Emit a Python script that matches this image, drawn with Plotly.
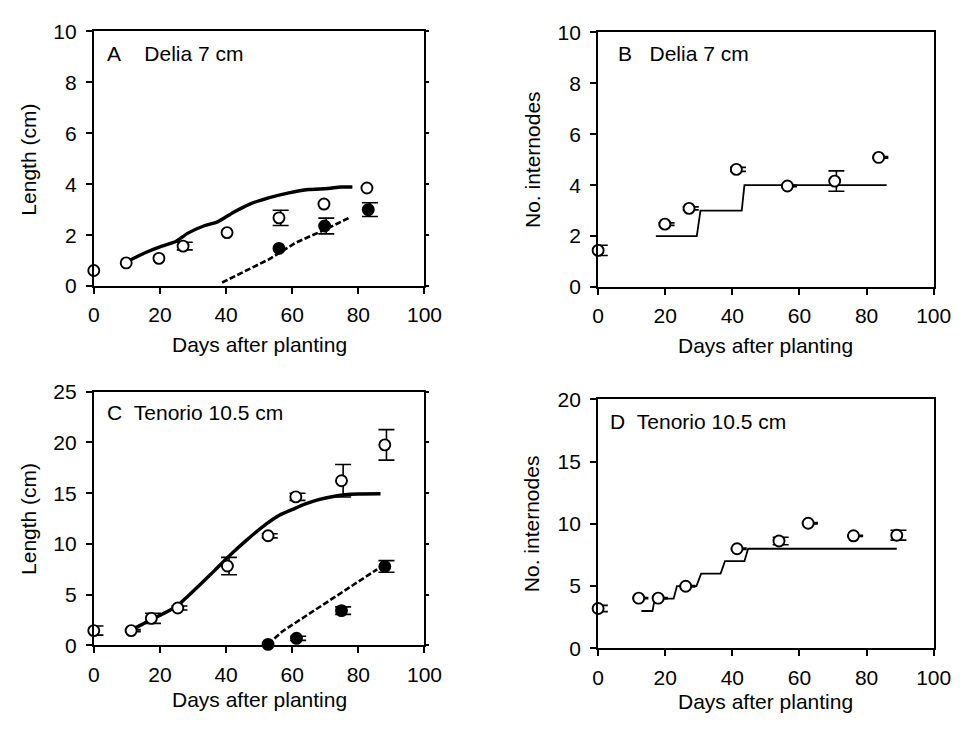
import plotly.graph_objects as go

# ---------------- data ----------------
# Panel A: Delia 7 cm, length (cm)
A_total_day = [0, 9.8, 19.7, 27, 40.3, 56, 69.6, 82.6]
A_total_len = [0.61, 0.91, 1.09, 1.57, 2.10, 2.68, 3.22, 3.85]
A_total_err = [0, 0, 0, 0.15, 0, 0.3, 0, 0]
A_fill_day = [56, 69.8, 83]
A_fill_len = [1.48, 2.36, 3.0]
A_fill_err = [0, 0.31, 0.27]
A_sim_day = [9.8, 12.5, 15.7, 20.6, 24.6, 28.5, 33.4, 37.4, 42.3, 47.2, 53.1, 59,
             64.9, 70.8, 74.7, 78.2]
A_sim_len = [0.94, 1.12, 1.32, 1.57, 1.74, 2.08, 2.37, 2.52, 2.90, 3.22, 3.47, 3.66,
             3.79, 3.83, 3.89, 3.89]
A_sim2_day = [38.8, 45.2, 53.1, 61, 69.8, 77.7]
A_sim2_len = [0.14, 0.56, 1.06, 1.70, 2.21, 2.71]

# Panel B: Delia 7 cm, number of internodes
B_obs_day = [0, 19.9, 27.1, 41.2, 56.4, 70.5, 83.6]
B_obs = [1.44, 2.47, 3.09, 4.62, 3.97, 4.16, 5.09]
B_err = [0.2, 0.05, 0.06, 0.08, 0.03, 0.4, 0.03]
B_sim_day = [17.2, 29.4, 30.5, 42.8, 43.6, 86.0]
B_sim = [2, 2, 3, 3, 4, 4]

# Panel C: Tenorio 10.5 cm, length (cm)
C_total_day = [0, 11.3, 17.4, 25.4, 40.4, 52.7, 61.1, 74.9, 88.0]
C_total_len = [1.46, 1.46, 2.67, 3.69, 7.82, 10.8, 14.64, 16.23, 19.76]
C_total_err = [0.45, 0.1, 0.5, 0.2, 0.85, 0.2, 0.35, 1.6, 1.5]
C_fill_day = [52.7, 61.3, 74.9, 88.0]
C_fill_len = [0.1, 0.70, 3.43, 7.78]
C_fill_err = [0, 0.2, 0.37, 0.57]
C_sim_day = [11.3, 14.5, 17.7, 21.7, 25.6, 28.6, 32.5, 36.5, 40.4, 46.3, 52.2, 56,
             60.1, 64, 68, 72, 75.9, 80, 86.7]
C_sim_len = [1.55, 2.05, 2.6, 3.24, 4.0, 4.9, 6.1, 7.37, 8.65, 10.4, 11.98, 12.8,
             13.4, 13.95, 14.37, 14.65, 14.84, 14.92, 14.94]
C_sim2_day = [52.7, 54.5, 57.1, 60, 65, 70, 75, 80, 85.7]
C_sim2_len = [0.13, 0.65, 1.4, 2.02, 3.08, 4.15, 5.21, 6.28, 7.5]

# Panel D: Tenorio 10.5 cm, number of internodes
D_obs_day = [0, 12.1, 17.9, 26.1, 41.4, 53.9, 62.6, 76.1, 89.0]
D_obs = [3.2, 4.03, 4.03, 4.99, 8.0, 8.62, 10.05, 9.04, 9.09]
D_err = [0.25, 0.05, 0.05, 0.05, 0.05, 0.3, 0.05, 0.05, 0.4]
D_sim_day = [12.9, 16.2, 16.9, 22.5, 23.5, 29.3, 30.7, 36.5, 37.8, 43.6, 44.7, 89.0]
D_sim = [3, 3, 4, 4, 5, 5, 6, 6, 7, 7, 8, 8]

X_TICKS = [0, 20, 40, 60, 80, 100]

# ---------------- styling ----------------
FONT = "Liberation Sans, Arial, sans-serif"
FS = 21
W, H = 979, 731
ERR_SHIFT = 0.5  # error bars sit slightly to the right of the symbols

fig = go.Figure()


def add_errors(days, vals, errs, xa, ya):
    d = [x + ERR_SHIFT for x, e in zip(days, errs) if e > 0]
    v = [y for y, e in zip(vals, errs) if e > 0]
    e2 = [e for e in errs if e > 0]
    fig.add_trace(go.Scatter(
        x=d, y=v, mode="markers", xaxis=xa, yaxis=ya, cliponaxis=False,
        marker=dict(size=1, color="rgba(0,0,0,0)"),
        error_y=dict(type="data", array=e2, color="black", thickness=1.6, width=8),
        hoverinfo="skip"))


def add_points(days, vals, xa, ya, filled):
    fig.add_trace(go.Scatter(
        x=days, y=vals, mode="markers", xaxis=xa, yaxis=ya, cliponaxis=False,
        marker=dict(size=11, color="black" if filled else "white",
                    line=dict(color="black", width=1.9))))


def add_line(days, vals, xa, ya, width, dash="solid", shape="linear"):
    line = dict(color="black", width=width, dash=dash, shape=shape)
    if shape == "spline":
        line["smoothing"] = 0.7
    fig.add_trace(go.Scatter(
        x=days, y=vals, mode="lines", xaxis=xa, yaxis=ya, cliponaxis=False,
        line=line))


SIM_DASH = "6px,2.5px"

# Panel A
add_line(A_sim_day, A_sim_len, "x", "y", 3.4, shape="spline")
add_line(A_sim2_day, A_sim2_len, "x", "y", 2.6, SIM_DASH)
add_errors(A_total_day, A_total_len, A_total_err, "x", "y")
add_errors(A_fill_day, A_fill_len, A_fill_err, "x", "y")
add_points(A_total_day, A_total_len, "x", "y", False)
add_points(A_fill_day, A_fill_len, "x", "y", True)

# Panel B
add_line(B_sim_day, B_sim, "x2", "y2", 1.8)
add_errors(B_obs_day, B_obs, B_err, "x2", "y2")
add_points(B_obs_day, B_obs, "x2", "y2", False)

# Panel C
add_line(C_sim_day, C_sim_len, "x3", "y3", 3.4, shape="spline")
add_line(C_sim2_day, C_sim2_len, "x3", "y3", 2.6, SIM_DASH)
add_errors(C_total_day, C_total_len, C_total_err, "x3", "y3")
add_errors(C_fill_day, C_fill_len, C_fill_err, "x3", "y3")
add_points(C_total_day, C_total_len, "x3", "y3", False)
add_points(C_fill_day, C_fill_len, "x3", "y3", True)

# Panel D
add_line(D_sim_day, D_sim, "x4", "y4", 1.8)
add_errors(D_obs_day, D_obs, D_err, "x4", "y4")
add_points(D_obs_day, D_obs, "x4", "y4", False)

# empty traces carrying the right-hand tick axes of A and C
fig.add_trace(go.Scatter(x=[], y=[], xaxis="x", yaxis="y5"))
fig.add_trace(go.Scatter(x=[], y=[], xaxis="x3", yaxis="y6"))


def px_dom_x(a, b):
    return [a / W, b / W]


def px_dom_y(top, bottom):
    return [1 - bottom / H, 1 - top / H]


def xaxis(dom, anchor):
    return dict(domain=dom, anchor=anchor, range=[0, 100], tickvals=X_TICKS,
                ticks="outside", ticklen=6, tickwidth=1.5, tickcolor="black",
                showline=True, linewidth=2, linecolor="black", mirror=True,
                showgrid=False, zeroline=False, ticklabelstandoff=3,
                tickfont=dict(family=FONT, size=FS, color="black"))


def yaxis(dom, anchor, rng, dtick):
    return dict(domain=dom, anchor=anchor, range=rng, dtick=dtick,
                ticks="outside", ticklen=6, tickwidth=1.5, tickcolor="black",
                showline=True, linewidth=2, linecolor="black", mirror=True,
                showgrid=False, zeroline=False, ticklabelstandoff=5,
                tickfont=dict(family=FONT, size=FS, color="black"))


xa_dom = px_dom_x(90, 429)
xb_dom = px_dom_x(607, 951)
ya_dom = px_dom_y(20, 283)
yb_dom = px_dom_y(21, 284)
yc_dom = px_dom_y(392, 654)
yd_dom = px_dom_y(400, 657)

fig.update_layout(
    width=W, height=H, margin=dict(l=0, r=0, t=0, b=0),
    paper_bgcolor="white", plot_bgcolor="white", showlegend=False,
    font=dict(family=FONT, size=FS, color="black"),
    xaxis=xaxis(xa_dom, "y"),
    yaxis=yaxis(ya_dom, "x", [0, 10], 2),
    xaxis2=xaxis(xb_dom, "y2"),
    yaxis2=yaxis(yb_dom, "x2", [0, 10], 2),
    xaxis3=xaxis(xa_dom, "y3"),
    yaxis3=yaxis(yc_dom, "x3", [0, 25], 5),
    xaxis4=xaxis(xb_dom, "y4"),
    yaxis4=yaxis(yd_dom, "x4", [0, 20], 5),
    yaxis5=dict(overlaying="y", anchor="x", side="right", range=[0, 10], dtick=2,
                ticks="outside", ticklen=4, tickwidth=1.5, tickcolor="black",
                showticklabels=False, showline=False, showgrid=False, zeroline=False),
    yaxis6=dict(overlaying="y3", anchor="x3", side="right", range=[0, 25], dtick=5,
                ticks="outside", ticklen=4, tickwidth=1.5, tickcolor="black",
                showticklabels=False, showline=False, showgrid=False, zeroline=False),
)

annotations = []


def text(x, y, s, rot=0, xanchor="center"):
    annotations.append(dict(
        x=x / W, y=1 - y / H, xref="paper", yref="paper", text=s, showarrow=False,
        xanchor=xanchor, yanchor="middle", textangle=rot,
        font=dict(family=FONT, size=FS, color="black")))


NB = "\u00a0"
# panel labels
text(101, 43, "A" + NB * 4 + "Delia 7 cm", xanchor="left")
text(625, 43, "B" + NB * 3 + "Delia 7 cm", xanchor="left")
text(101, 414, "C" + NB * 2 + "Tenorio 10.5 cm", xanchor="left")
text(617, 423, "D" + NB * 2 + "Tenorio 10.5 cm", xanchor="left")

# axis titles
text(260, 343, "Days after planting")
text(779, 344, "Days after planting")
text(260, 710, "Days after planting")
text(779, 712, "Days after planting")
text(23, 152, "Length (cm)", rot=-90)
text(539, 152, "No. internodes", rot=-90)
text(23, 523, "Length (cm)", rot=-90)
text(539, 528, "No. internodes", rot=-90)

fig.update_layout(annotations=annotations)

fig.write_html("out.html")
